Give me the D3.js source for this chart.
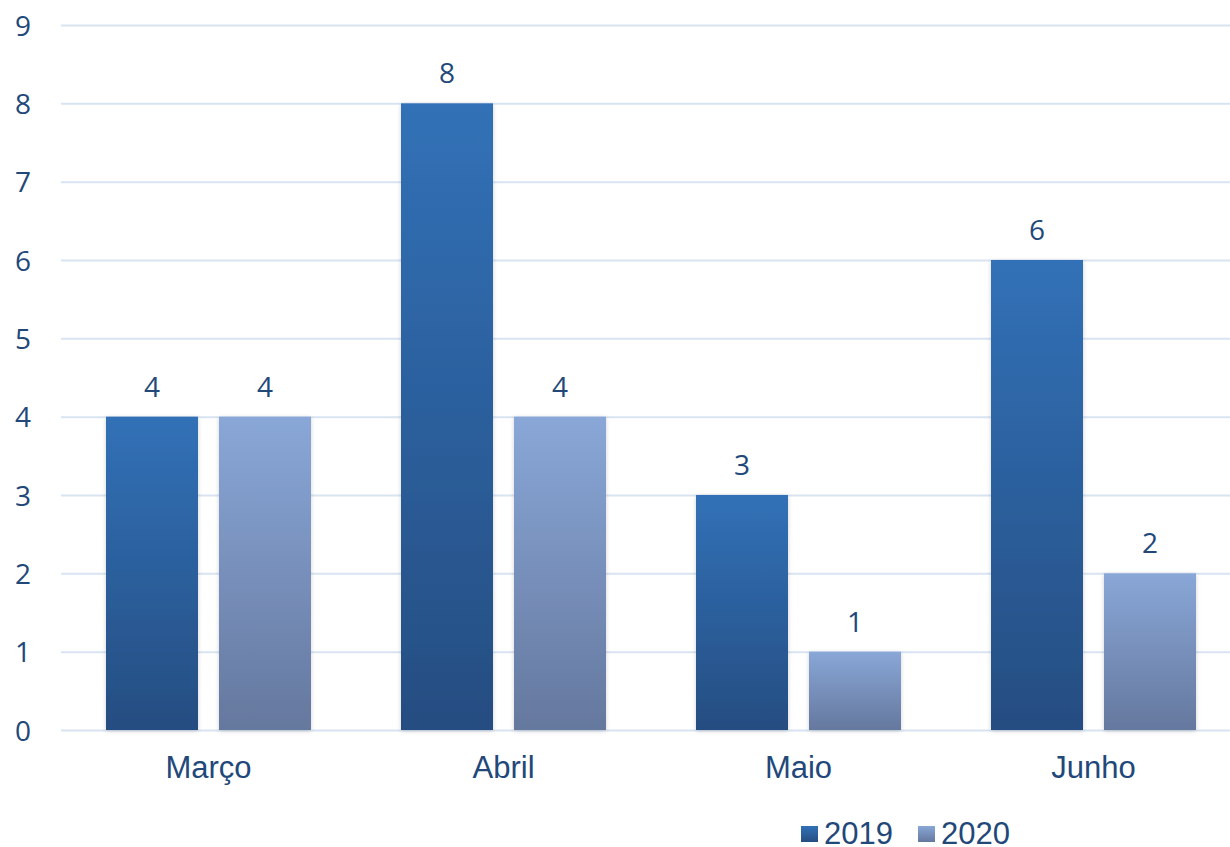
<!DOCTYPE html>
<html><head><meta charset="utf-8">
<script src="https://cdn.jsdelivr.net/npm/d3@7"></script>
<style>html,body{margin:0;padding:0;background:#fff;}</style>
</head><body>
<svg id="chart" width="1230" height="847"></svg>
<script>
const categories = ["Março", "Abril", "Maio", "Junho"];
const seriesNames = ["2019", "2020"];
const values2019 = [4, 8, 3, 6];
const values2020 = [4, 4, 1, 2];
const yTicks = [0, 1, 2, 3, 4, 5, 6, 7, 8, 9];

const seriesValues = [values2019, values2020];
const svg = d3.select("#chart");
const textColor = "#22487a";

const x0 = d3.scaleBand().domain(categories).range([61, 1241]).padding(0);
const x1 = d3.scaleBand().domain(seriesNames).range([45, 250]).paddingInner(21 / 113).paddingOuter(0);
const y = d3.scaleLinear().domain([0, 9]).range([730, 25]);

const defs = svg.append("defs");
const grads = [
  { id: "g2019", top: "#3171b7", bottom: "#264d81" },
  { id: "g2020", top: "#89a7d7", bottom: "#65789e" }
];
grads.forEach(g => {
  const lg = defs.append("linearGradient").attr("id", g.id).attr("x1", 0).attr("y1", 0).attr("x2", 0).attr("y2", 1);
  lg.append("stop").attr("offset", "0%").attr("stop-color", g.top);
  lg.append("stop").attr("offset", "100%").attr("stop-color", g.bottom);
});
const f = defs.append("filter").attr("id", "shadow").attr("x", "-10%").attr("y", "-10%").attr("width", "120%").attr("height", "120%");
f.append("feDropShadow").attr("dx", 0).attr("dy", 1).attr("stdDeviation", 2).attr("flood-color", "#000").attr("flood-opacity", 0.18);

// gridlines
const yAxis = d3.axisLeft(y).tickValues(yTicks).tickSize(-(1230 - 61)).tickFormat(d3.format("d"));
const gy = svg.append("g").attr("transform", "translate(61,0)").call(yAxis);
gy.select(".domain").remove();
gy.selectAll(".tick line").attr("stroke", "#d9e4f2").attr("stroke-width", 2);
gy.selectAll(".tick text")
  .attr("x", -30).attr("text-anchor", "end").attr("dy", "0.36em")
  .attr("fill", textColor).style("font-family", "'Open Sans', sans-serif").style("font-size", "28px");

// bars
const groups = svg.append("g").selectAll("g").data(categories).join("g")
  .attr("transform", d => `translate(${x0(d)},0)`);

groups.selectAll("rect")
  .data((c, i) => seriesNames.map((s, si) => ({ s, si, v: seriesValues[si][i] })))
  .join("rect")
  .attr("x", d => x1(d.s))
  .attr("width", x1.bandwidth())
  .attr("y", d => y(d.v))
  .attr("height", d => y(0) - y(d.v))
  .attr("fill", d => `url(#${grads[d.si].id})`)
  .attr("filter", "url(#shadow)");

groups.selectAll("text.val")
  .data((c, i) => seriesNames.map((s, si) => ({ s, si, v: seriesValues[si][i] })))
  .join("text")
  .attr("class", "val")
  .attr("x", d => x1(d.s) + x1.bandwidth() / 2)
  .attr("y", d => y(d.v) - 20)
  .attr("text-anchor", "middle")
  .attr("fill", textColor)
  .style("font-family", "'Open Sans', sans-serif").style("font-size", "28px")
  .text(d => d.v);

// category axis labels
const xAxis = d3.axisBottom(x0).tickSize(0);
const gx = svg.append("g").attr("transform", `translate(0,${y(0)})`).call(xAxis);
gx.select(".domain").remove();
gx.selectAll(".tick text")
  .attr("y", 48).attr("dy", 0)
  .attr("fill", textColor)
  .style("font-family", "'Liberation Sans', Arial, sans-serif").style("font-size", "31px");

// legend
const legendX = [801, 918];
const legend = svg.append("g").selectAll("g").data(seriesNames).join("g")
  .attr("transform", (d, i) => `translate(${legendX[i]},0)`);
legend.append("rect").attr("x", 0).attr("y", 826).attr("width", 17).attr("height", 16)
  .attr("fill", (d, i) => `url(#${grads[i].id})`);
legend.append("text").attr("x", 23).attr("y", 844)
  .attr("fill", textColor)
  .style("font-family", "'Liberation Sans', Arial, sans-serif").style("font-size", "31px")
  .text(d => d);
</script>
</body></html>
